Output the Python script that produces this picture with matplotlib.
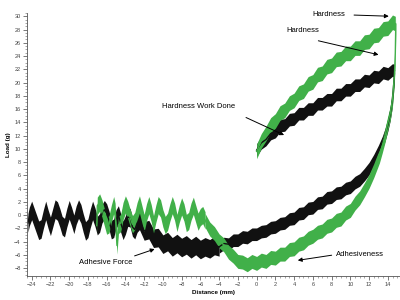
import matplotlib
matplotlib.use("Agg")
import matplotlib.pyplot as plt
import numpy as np
from matplotlib.ticker import MultipleLocator

plt.rcParams['font.family'] = ['Liberation Sans', 'DejaVu Sans']

# (distance mm, load g), black trace going in (0 -> 14.7)
black_load = [(0, 9.8), (0.5, 10.9), (1, 11.4), (1.5, 12.3), (2, 12.6), (2.5, 13.5),
              (3, 13.6), (3.5, 14.4), (4, 14.5), (4.5, 15.3), (5, 15.3), (5.5, 16.0),
              (6, 16.0), (6.5, 16.8), (7, 16.8), (7.5, 17.4), (8, 17.4), (8.5, 18.2),
              (9, 18.2), (9.5, 18.9), (10, 18.9), (10.5, 19.6), (11, 19.6), (11.5, 20.3),
              (12, 20.2), (12.5, 20.9), (13, 20.8), (13.5, 21.5), (14, 21.3), (14.5, 21.9),
              (14.7, 21.8)]

# black trace coming back (14.7 -> -4)
black_back = [(14.7, 21.3), (14.6, 19.2), (14.45, 17.0), (14.25, 15.2), (14.0, 13.6),
              (13.7, 12.1), (13.4, 10.9), (13.0, 9.6), (12.5, 8.2), (12.0, 7.0),
              (11.5, 6.1), (11.0, 5.3), (10.5, 4.9), (10.0, 4.2), (9.5, 4.0), (9.0, 3.4),
              (8.5, 3.3), (8.0, 2.7), (7.5, 2.6), (7.0, 1.9), (6.5, 1.8), (6.0, 1.1),
              (5.5, 1.0), (5.0, 0.3), (4.5, 0.2), (4.0, -0.5), (3.5, -0.6), (3.0, -1.2),
              (2.5, -1.3), (2.0, -1.8), (1.5, -1.9), (1.0, -2.4), (0.5, -2.5), (0.0, -2.9),
              (-0.5, -2.9), (-1.0, -3.4), (-1.5, -3.3), (-2.0, -3.8), (-2.5, -3.8),
              (-3.0, -4.4), (-3.5, -4.3), (-4.0, -4.8)]

# black trace, noisy tail (-4 -> -24.4)
black_tail = [(-4.0, -4.8), (-4.5, -4.6), (-5.0, -5.1),
              (-5.5, -4.8), (-6.0, -5.2), (-6.5, -4.6), (-7.0, -5.1), (-7.5, -4.5),
              (-8.0, -4.9), (-8.5, -4.3), (-9.0, -4.8), (-9.5, -4.0), (-10.0, -4.4),
              (-10.5, -3.4), (-11.0, -3.5), (-11.5, -2.2), (-12.0, -2.4),
              (-12.25, -1.6), (-12.5, -0.8), (-12.75, -1.2), (-13.0, -2.2),
              (-13.25, -1.8), (-13.5, -0.4), (-13.75, -0.3), (-14.0, -1.5), (-14.25, -2.3),
              (-14.5, -1.2), (-14.75, 0.0), (-15.0, -0.6), (-15.25, -2.0), (-15.5, -2.2),
              (-15.75, -0.8), (-16.0, 0.3), (-16.25, 0.8), (-16.5, 0.2), (-16.75, -1.2),
              (-17.0, -1.6), (-17.25, -0.3), (-17.5, 0.7), (-17.75, -0.5), (-18.0, -2.0),
              (-18.25, -2.4), (-18.5, -1.2), (-18.75, 0.2), (-19.0, 0.9), (-19.25, 0.0),
              (-19.5, -1.4), (-19.75, -0.2), (-20.0, 0.8), (-20.25, -0.4), (-20.5, -1.9),
              (-20.75, -1.6), (-21.0, -0.4), (-21.25, 0.6), (-21.5, 0.9), (-21.75, -0.4),
              (-22.0, -1.7), (-22.25, -0.6), (-22.5, 0.7), (-22.75, -0.6), (-23.0, -2.1),
              (-23.25, -2.3), (-23.5, -1.3), (-23.75, -0.3), (-24.0, 0.7), (-24.25, -0.2),
              (-24.4, -1.2)]

# green trace going in
green_load = [(0, 9.6), (0.5, 11.2), (1, 12.3), (1.5, 13.6), (2, 14.2), (2.5, 15.4),
              (3, 15.8), (3.5, 16.9), (4, 17.3), (4.5, 18.4), (5, 18.7), (5.5, 19.8),
              (6, 20.1), (6.5, 21.2), (7, 21.4), (7.5, 22.4), (8, 22.6), (8.5, 23.5),
              (9, 23.6), (9.5, 24.4), (10, 24.4), (10.5, 25.2), (11, 25.2), (11.5, 26.1),
              (12, 26.2), (12.5, 27.1), (13, 27.2), (13.5, 28.1), (14, 28.2), (14.5, 29.1),
              (14.8, 28.9)]

# green trace coming back (14.85 -> -5.5)
green_back = [(14.85, 28.8), (14.8, 24.5), (14.7, 21.0), (14.5, 17.5), (14.25, 15.3),
              (14.0, 13.9), (13.7, 12.0), (13.4, 10.4), (13.1, 8.9), (12.5, 6.7),
              (12.0, 5.1), (11.5, 3.8), (11.0, 2.6), (10.5, 1.8), (10.0, 0.7), (9.5, 0.3),
              (9.0, -0.6), (8.5, -0.8), (8.0, -1.5), (7.5, -1.7), (7.0, -2.4), (6.5, -2.6),
              (6.0, -3.2), (5.5, -3.5), (5.0, -4.2), (4.5, -4.4), (4.0, -5.1), (3.5, -5.2),
              (3.0, -5.9), (2.5, -5.9), (2.0, -6.5), (1.5, -6.4), (1.0, -7.0), (0.5, -6.8),
              (0.0, -7.3), (-0.5, -7.0), (-1.0, -7.5), (-1.5, -7.1), (-2.0, -7.0),
              (-2.5, -6.2), (-3.0, -5.6), (-3.5, -4.5), (-4.0, -3.9), (-4.5, -2.8),
              (-5.0, -2.1), (-5.5, -0.8)]

# green trace, noisy tail (-5.5 -> -17.05)
green_tail = [(-5.5, -0.8), (-5.75, 0.0), (-6.0, -0.3), (-6.25, -1.0),
              (-6.5, 0.2), (-6.75, 1.4), (-7.0, 0.5), (-7.25, -0.9), (-7.5, -1.2),
              (-7.75, 0.4), (-8.0, 1.3), (-8.25, 0.2), (-8.5, -1.2), (-8.75, 0.5),
              (-9.0, 1.5), (-9.25, 0.4), (-9.5, -1.0), (-9.75, -1.5), (-10.0, -0.5),
              (-10.25, 1.0), (-10.5, 1.5), (-10.75, 0.2), (-11.0, -1.4), (-11.25, 0.3),
              (-11.5, 1.5), (-11.75, 0.4), (-12.0, -1.2), (-12.25, 0.2), (-12.5, 1.6),
              (-12.75, 0.6), (-13.0, -0.9), (-13.25, -1.4), (-13.5, -0.4), (-13.75, 0.8),
              (-14.0, 1.6), (-14.25, 0.6), (-14.5, -1.2), (-14.75, -1.5), (-14.9, -4.6),
              (-15.1, 0.5), (-15.25, 1.5), (-15.5, 0.2), (-15.75, -1.4), (-16.0, -1.6),
              (-16.25, -0.3), (-16.5, 1.0), (-16.75, 1.9), (-17.0, 1.4), (-17.05, -1.6)]

y_ticks = list(range(-8, 31, 2))
x_ticks = list(range(-24, 15, 2))

black = '#111111'
green = '#41b049'

fig = plt.figure(figsize=(4, 3), dpi=100)
ax = fig.add_axes([0.0675, 0.08, 0.9325, 0.8767])


def draw_band(points, color, half):
    x = np.array([p[0] for p in points], dtype=float)
    y = np.array([p[1] for p in points], dtype=float)
    ax.fill_between(x, y - half, y + half, color=color, lw=0)
    ax.plot(x, y, color=color, lw=1.0)


draw_band(black_load, black, 0.95)
draw_band(black_back, black, 0.95)
draw_band(black_tail, black, 1.4)
draw_band(green_load, green, 1.1)
draw_band(green_back, green, 1.05)
draw_band(green_tail, green, 1.3)

ax.set_xlim(-24.5, 15.3)
ax.set_ylim(-9.2, 30.5)
ax.set_xticks(x_ticks)
ax.set_yticks(y_ticks)
ax.xaxis.set_minor_locator(MultipleLocator(0.5))
ax.yaxis.set_minor_locator(MultipleLocator(0.5))
ax.tick_params(which='major', length=3, width=0.5, labelsize=4, colors='#444444', pad=1.5)
ax.tick_params(which='minor', length=1.5, width=0.4, colors='#666666')
for side in ['top', 'right']:
    ax.spines[side].set_visible(False)
for side in ['left', 'bottom']:
    ax.spines[side].set_linewidth(0.6)
    ax.spines[side].set_color('#555555')

ax.set_xlabel('Distance (mm)', fontsize=4.5, fontweight='bold', labelpad=2)
ax.set_ylabel('Load (g)', fontsize=4.5, fontweight='bold', labelpad=2)

arrow = dict(arrowstyle='-|>', color='black', lw=0.7, mutation_scale=6)
notes = [
    ('Hardness', (6.0, 30.3), (10.1, 30.2), (14.4, 30.0)),
    ('Hardness', (3.2, 27.9), (6.3, 26.4), (13.3, 24.1)),
    ('Hardness Work Done', (-10.1, 16.4), (-1.4, 14.9), (3.2, 11.9)),
    ('Adhesive Force', (-19.0, -7.1), (-13.3, -6.3), (-10.6, -5.0)),
    ('Adhesiveness', (8.5, -6.0), (8.3, -6.0), (4.1, -6.9)),
]
for label, tpos, tail, head in notes:
    ax.text(tpos[0], tpos[1], label, fontsize=5.5, ha='left', va='center')
    ax.annotate('', xy=head, xytext=tail, arrowprops=arrow)

fig.savefig('out.png', dpi=100)
